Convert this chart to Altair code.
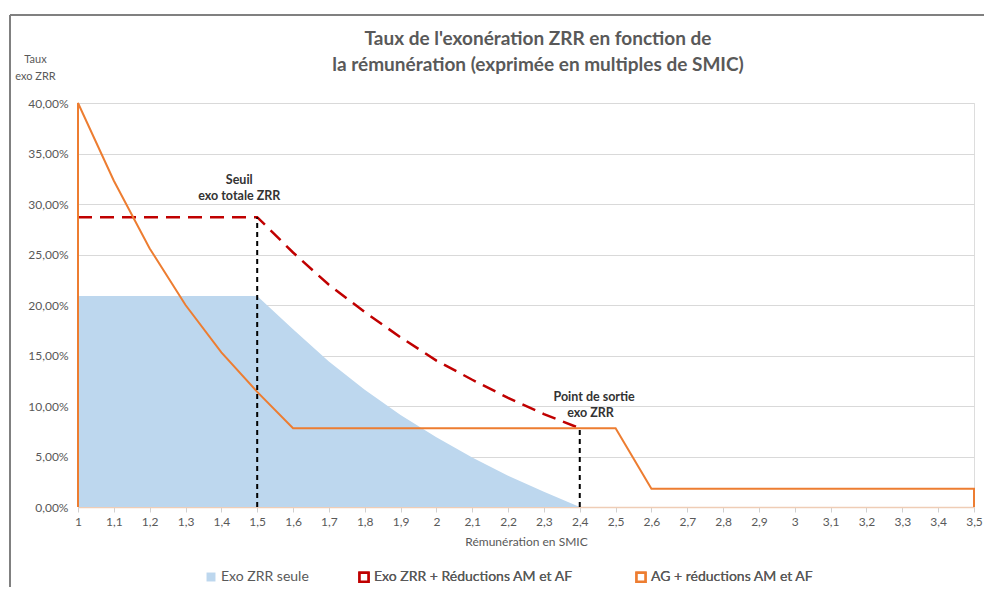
import altair as alt
import pandas as pd

# ---- data ----
orange_x = [1.0, 1.0, 1.1, 1.2, 1.3, 1.4, 1.5, 1.6, 2.5, 2.6, 3.5, 3.5]
orange_y = [0.0, 40.0, 32.3, 25.6, 20.0, 15.3, 11.4, 7.8, 7.8, 1.8, 1.8, 0.0]

red_x = [1.0, 1.5, 1.6, 1.7, 1.8, 1.9, 2.0, 2.1, 2.2, 2.3, 2.4]
red_y = [28.7, 28.7, 25.2, 22.0, 19.3, 16.8, 14.5, 12.6, 10.8, 9.2, 7.8]

blue_x = [1.0, 1.5, 1.6, 1.7, 1.8, 1.9, 2.0, 2.1, 2.2, 2.3, 2.4]
blue_y = [20.9, 20.9, 17.6, 14.4, 11.6, 9.1, 6.9, 4.9, 3.1, 1.5, 0.0]

vline_x = [1.5, 2.4]
vline_top = [28.7, 7.8]

ann_x = [1.45, 1.45, 2.44, 2.43]
ann_y = [32.4, 30.8, 10.9, 9.3]
ann_text = ["Seuil", "exo totale ZRR", "Point de sortie", "exo ZRR"]

x_ticks = [1.0, 1.1, 1.2, 1.3, 1.4, 1.5, 1.6, 1.7, 1.8, 1.9, 2.0, 2.1, 2.2, 2.3,
           2.4, 2.5, 2.6, 2.7, 2.8, 2.9, 3.0, 3.1, 3.2, 3.3, 3.4, 3.5]
y_ticks = [0, 5, 10, 15, 20, 25, 30, 35, 40]

series = ["Exo ZRR seule", "Exo ZRR + Réductions AM et AF", "AG + réductions AM et AF"]
colors = ["#bdd7ee", "#c00000", "#ed7d31"]

FONT = "Lato"
GRAY = "#595959"

orange_df = pd.DataFrame({"x": orange_x, "y": orange_y, "i": list(range(len(orange_x))), "s": series[2]})
red_df = pd.DataFrame({"x": red_x, "y": red_y, "s": series[1]})
blue_df = pd.DataFrame({"x": blue_x, "y": blue_y, "s": series[0]})
vline_df = pd.DataFrame({"x": vline_x, "y": [0, 0], "y2": vline_top})
ann_df = pd.DataFrame({"x": ann_x, "y": ann_y, "t": ann_text})

xscale = alt.Scale(domain=[1, 3.5], nice=False, zero=False)
yscale = alt.Scale(domain=[0, 40], nice=False)
fscale = alt.Scale(domain=series[:1], range=colors[:1])
sscale = alt.Scale(domain=series[1:], range=colors[1:])

xaxis = alt.Axis(
    values=x_ticks,
    labelExpr="replace(format(datum.value, '.1~f'), '.', ',')",
    labelOverlap=False,
    labelFlush=False,
    title="Rémunération en SMIC",
    grid=False,
    domainColor="#efcdb6",
    domainWidth=1.5,
    tickColor="#d0d0d0",
    tickSize=5,
    labelColor=GRAY,
    labelFont=FONT,
    labelFontSize=12,
    labelPadding=4,
    titleColor=GRAY,
    titleFont=FONT,
    titleFontSize=12,
    titleFontWeight="normal",
    titlePadding=9,
)
yaxis = alt.Axis(
    values=y_ticks,
    labelExpr="replace(format(datum.value / 100, '.2%'), '.', ',')",
    title=["Taux", "exo ZRR"],
    titleAngle=0,
    titleAlign="center",
    titleBaseline="alphabetic",
    titleX=-43,
    titleY=-41,
    titleColor=GRAY,
    titleFont=FONT,
    titleFontSize=11,
    titleFontWeight="normal",
    titleLineHeight=17,
    domain=False,
    ticks=False,
    gridColor="#d9d9d9",
    labelColor=GRAY,
    labelFont=FONT,
    labelFontSize=12,
    labelPadding=10,
)

X = alt.X("x:Q", scale=xscale, axis=xaxis)
Y = alt.Y("y:Q", scale=yscale, axis=yaxis)

common_legend = dict(
    title=None,
    orient="none",
    direction="horizontal",
    symbolType="square",
    symbolSize=80,
    labelFont=FONT,
    labelFontSize=14,
    labelColor=GRAY,
    labelOffset=3,
    labelLimit=0,
)
fill_legend = alt.Legend(legendX=126, legendY=467, **common_legend)
stroke_legend = alt.Legend(legendX=279, legendY=467, columnPadding=58,
                           symbolStrokeWidth=2.5, symbolFillColor="white", **common_legend)

area = alt.Chart(blue_df).mark_area(opacity=1).encode(
    x=X, y=Y,
    fill=alt.Fill("s:N", scale=fscale, legend=fill_legend),
)

red = alt.Chart(red_df).mark_line(strokeWidth=2.5, strokeDash=[14, 8]).encode(
    x=X, y=Y,
    stroke=alt.Stroke("s:N", scale=sscale, legend=stroke_legend),
)

orange = alt.Chart(orange_df).mark_line(strokeWidth=2).encode(
    x=X, y=Y, order="i:Q",
    stroke=alt.Stroke("s:N", scale=sscale, legend=stroke_legend),
)

vlines = alt.Chart(vline_df).mark_rule(color="#000000", strokeWidth=2, strokeDash=[5, 4]).encode(
    x=X, y=Y, y2="y2:Q",
)

ann = alt.Chart(ann_df).mark_text(font=FONT, fontSize=12.5, fontWeight="bold", color="#333333").encode(
    x=X, y=Y, text="t:N",
)

frame_top = alt.Chart(pd.DataFrame({"a": [0]})).mark_rule(color="#808080", strokeWidth=2).encode(
    x=alt.value(-68), x2=alt.value(1000), y=alt.value(-88)
)
frame_left = alt.Chart(pd.DataFrame({"a": [0]})).mark_rule(color="#808080", strokeWidth=2).encode(
    x=alt.value(-68), y=alt.value(-88), y2=alt.value(500)
)

chart = alt.layer(area, red, orange, vlines, ann, frame_top, frame_left).properties(
    width=896,
    height=404,
    autosize=alt.AutoSizeParams(type="none"),
    padding={"left": 70, "top": 95, "right": 10, "bottom": 80},
    title=alt.TitleParams(
        text=["Taux de l'exonération ZRR en fonction de",
              "la rémunération (exprimée en multiples de SMIC)"],
        font=FONT,
        fontSize=19,
        fontWeight="bold",
        color=GRAY,
        anchor="middle",
        frame="group",
        dx=12,
        dy=61,
        offset=0,
        lineHeight=26,
    ),
).resolve_scale(fill="independent", stroke="independent").configure_view(stroke=None).configure(background="white")

chart.save("out.html", embed_options={"renderer": "svg", "actions": False})
